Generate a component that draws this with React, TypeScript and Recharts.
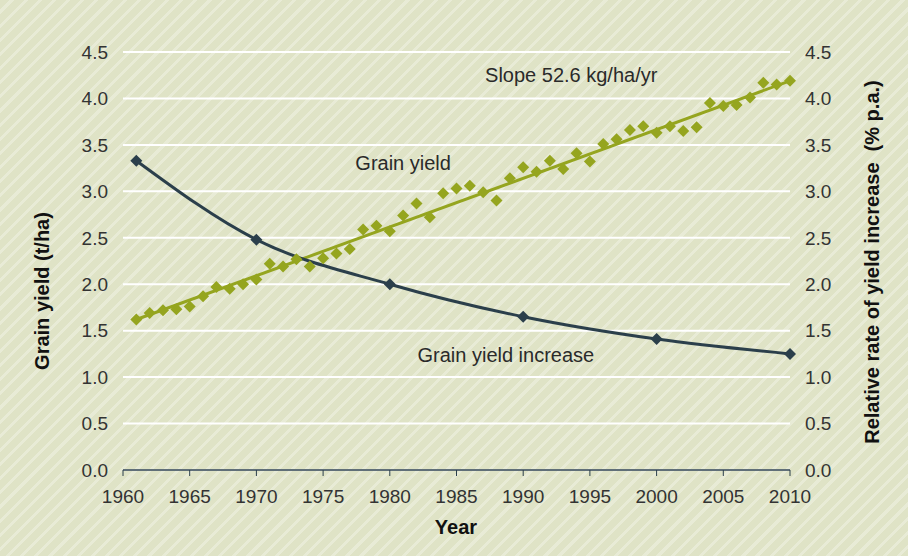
import React from 'react';
import {
  ComposedChart,
  Line,
  XAxis,
  YAxis,
  CartesianGrid,
  ReferenceDot,
  Label,
} from 'recharts';

const GREEN = '#95a51f';
const NAVY = '#2b3f4b';
const TEXT = '#2a2a2a';
const FONT = '"Liberation Sans", Arial, Helvetica, sans-serif';

// grain yield, t/ha, one point a year
const yieldYears = [
  1961, 1962, 1963, 1964, 1965, 1966, 1967, 1968, 1969, 1970,
  1971, 1972, 1973, 1974, 1975, 1976, 1977, 1978, 1979, 1980,
  1981, 1982, 1983, 1984, 1985, 1986, 1987, 1988, 1989, 1990,
  1991, 1992, 1993, 1994, 1995, 1996, 1997, 1998, 1999, 2000,
  2001, 2002, 2003, 2004, 2005, 2006, 2007, 2008, 2009, 2010,
];
const grainYield = [
  1.62, 1.69, 1.72, 1.73, 1.76, 1.87, 1.97, 1.95, 2.0, 2.05,
  2.22, 2.19, 2.27, 2.19, 2.28, 2.33, 2.38, 2.59, 2.63, 2.57,
  2.74, 2.87, 2.72, 2.98, 3.03, 3.06, 2.99, 2.9, 3.14, 3.26,
  3.21, 3.33, 3.24, 3.41, 3.32, 3.51, 3.56, 3.66, 3.7, 3.63,
  3.7, 3.65, 3.69, 3.95, 3.92, 3.93, 4.01, 4.17, 4.15, 4.19,
];

// fitted trend (slope 52.6 kg/ha/yr), end points
const trendYears = [1961, 2010];
const trendYield = [1.62, 4.19];

// relative rate of yield increase, % p.a.
const increaseYears = [1961, 1970, 1980, 1990, 2000, 2010];
const increaseRate = [3.33, 2.48, 2.0, 1.65, 1.41, 1.25];

const yearTicks = [1960, 1965, 1970, 1975, 1980, 1985, 1990, 1995, 2000, 2005, 2010];
const valueTicks = [0, 0.5, 1, 1.5, 2, 2.5, 3, 3.5, 4, 4.5];

const yieldData = yieldYears.map((year, i) => ({ year, value: grainYield[i] }));
const trendData = trendYears.map((year, i) => ({ year, value: trendYield[i] }));
const increaseData = increaseYears.map((year, i) => ({ year, value: increaseRate[i] }));

const diamond = (color: string, r: number) => (props: any) => {
  const { cx, cy, key, index } = props;
  if (cx == null || cy == null) return <g key={key ?? index} />;
  return (
    <polygon
      key={key ?? index}
      points={`${cx},${cy - r} ${cx + r},${cy} ${cx},${cy + r} ${cx - r},${cy}`}
      fill={color}
    />
  );
};

const tickStyle = { fontSize: 19, fill: '#333', fontFamily: FONT };

const annotation = (value: string) => ({
  value,
  position: 'center' as const,
  fontSize: 20,
  fill: TEXT,
  fontFamily: FONT,
});

const App = () => {
  return (
    <div
      style={{
        position: 'absolute',
        left: 0,
        top: 0,
        width: 908,
        height: 556,
        fontFamily: FONT,
        background:
          'repeating-linear-gradient(135deg, #dfe3c6 0px, #dfe3c6 7px, #e8ebd6 7px, #e8ebd6 10px)',
      }}
    >
      <ComposedChart
        width={908}
        height={556}
        margin={{ top: 52, right: 0, bottom: 0, left: 0 }}
      >
        <CartesianGrid
          yAxisId='left'
          vertical={false}
          stroke='#ffffff'
          strokeWidth={2}
        />
        <XAxis
          dataKey='year'
          type='number'
          domain={[1960, 2010]}
          ticks={yearTicks}
          height={86}
          tick={tickStyle}
          tickSize={6}
          tickMargin={14}
          tickLine={{ stroke: NAVY }}
          axisLine={{ stroke: NAVY, strokeWidth: 1.5 }}
          allowDuplicatedCategory={false}
        >
          <Label
            content={() => (
              <text
                x={456}
                y={527}
                textAnchor='middle'
                dominantBaseline='central'
                fontSize={20}
                fontWeight='bold'
                fill='#111'
                fontFamily={FONT}
              >
                Year
              </text>
            )}
          />
        </XAxis>
        <YAxis
          yAxisId='left'
          orientation='left'
          width={123}
          domain={[0, 4.5]}
          ticks={valueTicks}
          tickFormatter={(v: number) => v.toFixed(1)}
          axisLine={false}
          tickLine={false}
          tickMargin={9}
          tick={tickStyle}
        >
          <Label
            content={() => (
              <text
                x={42}
                y={291}
                transform='rotate(-90 42 291)'
                textAnchor='middle'
                dominantBaseline='central'
                fontSize={20}
                fontWeight='bold'
                fill='#111'
                fontFamily={FONT}
              >
                Grain yield  (t/ha)
              </text>
            )}
          />
        </YAxis>
        <YAxis
          yAxisId='right'
          orientation='right'
          width={118}
          domain={[0, 4.5]}
          ticks={valueTicks}
          tickFormatter={(v: number) => v.toFixed(1)}
          axisLine={false}
          tickLine={false}
          tickMargin={9}
          tick={tickStyle}
        >
          <Label
            content={() => (
              <text
                x={872}
                y={262}
                transform='rotate(-90 872 262)'
                textAnchor='middle'
                dominantBaseline='central'
                fontSize={20}
                fontWeight='bold'
                fill='#111'
                fontFamily={FONT}
                style={{ whiteSpace: 'pre' }}
              >
                Relative rate of yield increase  (% p.a.)
              </text>
            )}
          />
        </YAxis>

        <Line
          yAxisId='left'
          data={trendData}
          dataKey='value'
          type='linear'
          stroke={GREEN}
          strokeWidth={3}
          dot={false}
          activeDot={false}
          isAnimationActive={false}
        />
        <Line
          yAxisId='left'
          data={yieldData}
          dataKey='value'
          stroke='none'
          dot={diamond(GREEN, 6)}
          activeDot={false}
          isAnimationActive={false}
        />
        <Line
          yAxisId='right'
          data={increaseData}
          dataKey='value'
          type='monotone'
          stroke={NAVY}
          strokeWidth={3}
          dot={diamond(NAVY, 6)}
          activeDot={false}
          isAnimationActive={false}
        />

        <ReferenceDot
          yAxisId='left'
          x={1993.6}
          y={4.25}
          r={0}
          fill='none'
          stroke='none'
          label={annotation('Slope 52.6 kg/ha/yr')}
        />
        <ReferenceDot
          yAxisId='left'
          x={1981}
          y={3.31}
          r={0}
          fill='none'
          stroke='none'
          label={annotation('Grain yield')}
        />
        <ReferenceDot
          yAxisId='right'
          x={1988.7}
          y={1.24}
          r={0}
          fill='none'
          stroke='none'
          label={annotation('Grain yield increase')}
        />
      </ComposedChart>
    </div>
  );
};

export default App;
